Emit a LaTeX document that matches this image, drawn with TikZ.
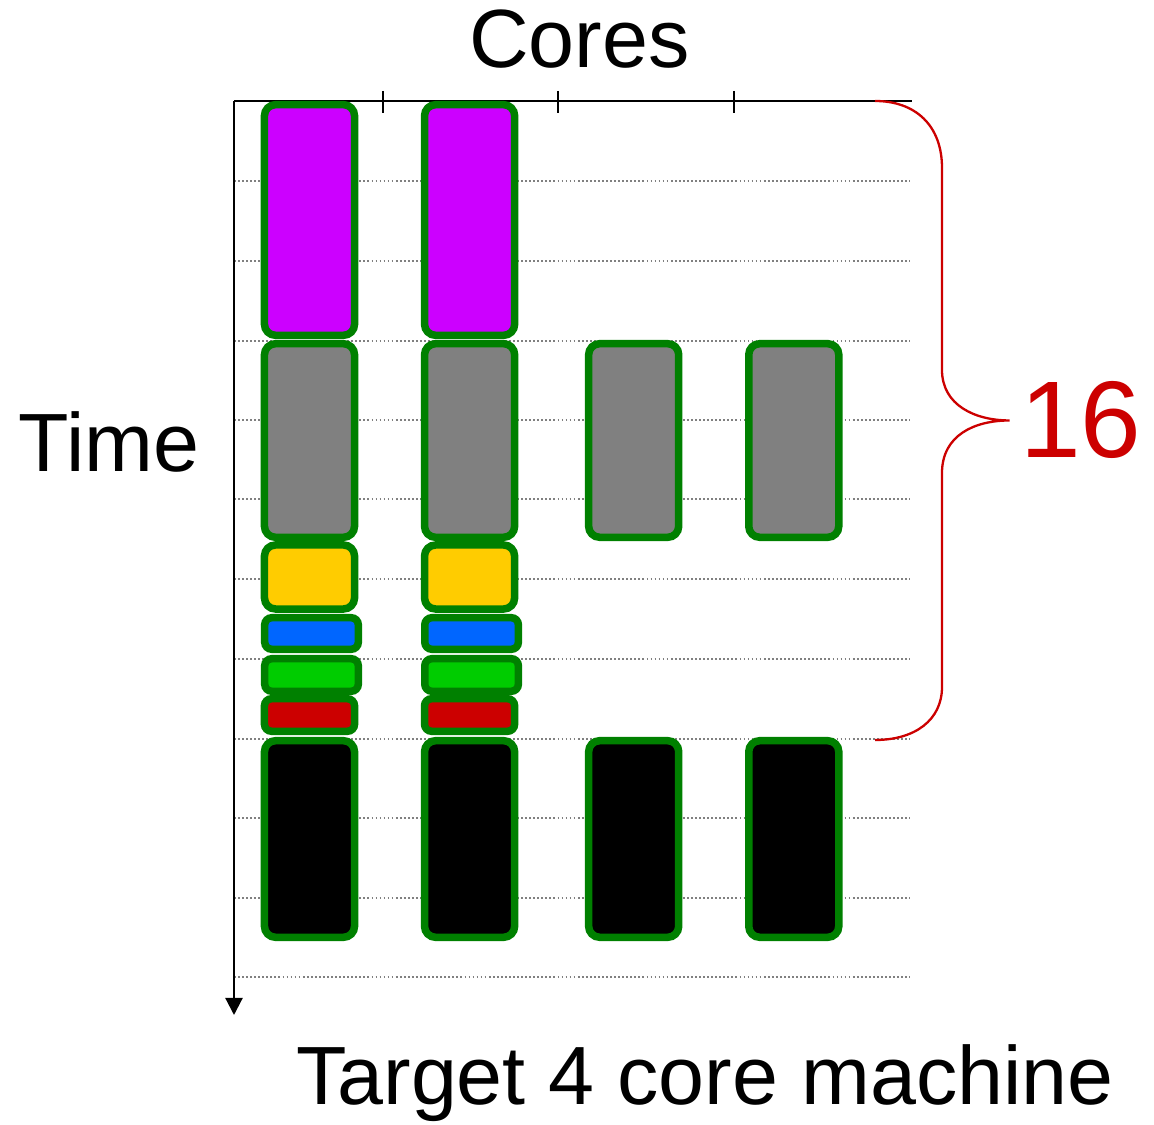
\documentclass[tikz,border=0pt]{standalone}
\usepackage{fontspec}
\setmainfont{Liberation Sans}
\usetikzlibrary{positioning,arrows.meta}

\definecolor{taskborder}{HTML}{008000}
\definecolor{taskpurple}{HTML}{CC00FF}
\definecolor{taskgray}{HTML}{808080}
\definecolor{taskyellow}{HTML}{FFCC00}
\definecolor{taskblue}{HTML}{0066FF}
\definecolor{taskgreen}{HTML}{00CC00}
\definecolor{taskred}{HTML}{CC0000}
\definecolor{bracered}{HTML}{CC0000}

\begin{document}
\begin{tikzpicture}[x=0.01cm,y=-0.01cm,on grid,
    task/.style={draw=taskborder,line width=0.075cm,rounded corners=0.11cm,
                 minimum width=0.9cm,inner sep=0pt},
    slim/.style={task,rounded corners=0.07cm},
    gridline/.style={gray,line width=0.4pt,dash pattern=on 0.5pt off 0.65pt},
    axis/.style={black,line width=0.022cm},
    bigtext/.style={inner sep=0pt,font=\fontsize{23.5pt}{28pt}\selectfont},
    numtext/.style={inner sep=0pt,text=bracered,font=\fontsize{31pt}{36pt}\selectfont},
    brace/.style={bracered,line width=0.023cm}]
    \useasboundingbox (0,0) rectangle (1154,1125);

    % time slots
    \foreach \y in {181,261,341,420,499,579,659,739,818,898,977}
        \draw[gridline] (234,\y) -- (910,\y);

    % axes
    \coordinate (origin) at (234,101);
    \coordinate (timeend) at (234,1015);
    \coordinate (coreend) at (912,101);
    \draw[axis,-{Triangle[length=0.17cm,width=0.17cm]}] (origin) -- (timeend);
    \draw[axis] (origin) -- (coreend);
    \foreach \x in {383,558,734}
        \draw[axis] (\x,91) -- (\x,113);

    % core 1
    \node[task,fill=taskpurple,minimum height=2.305cm] (pur1) at (309.5,220) {};
    \node[task,fill=taskgray,minimum height=1.935cm] (gry1) at (309.5,440.5) {};
    \node[task,fill=taskyellow,minimum height=0.64cm] (yel1) at (309.5,577) {};
    \node[slim,fill=taskblue,minimum width=0.935cm,minimum height=0.315cm] (blu1) at (311.5,633.5) {};
    \node[slim,fill=taskgreen,minimum width=0.935cm,minimum height=0.325cm] (grn1) at (311.5,675) {};
    \node[slim,fill=taskred,minimum height=0.325cm] (red1) at (309.5,715) {};
    \node[task,fill=black,minimum height=1.965cm] (blk1) at (309.5,839) {};

    % core 2
    \node[task,fill=taskpurple,minimum height=2.305cm] (pur2) [right=1.6cm of pur1] {};
    \node[task,fill=taskgray,minimum height=1.935cm] (gry2) [right=1.6cm of gry1] {};
    \node[task,fill=taskyellow,minimum height=0.64cm] (yel2) [right=1.6cm of yel1] {};
    \node[slim,fill=taskblue,minimum width=0.935cm,minimum height=0.315cm] (blu2) [right=1.6cm of blu1] {};
    \node[slim,fill=taskgreen,minimum width=0.935cm,minimum height=0.325cm] (grn2) [right=1.6cm of grn1] {};
    \node[slim,fill=taskred,minimum height=0.325cm] (red2) [right=1.6cm of red1] {};
    \node[task,fill=black,minimum height=1.965cm] (blk2) [right=1.6cm of blk1] {};

    % cores 3 and 4
    \node[task,fill=taskgray,minimum height=1.935cm] (gry3) [right=1.64cm of gry2] {};
    \node[task,fill=taskgray,minimum height=1.935cm] (gry4) [right=1.6cm of gry3] {};
    \node[task,fill=black,minimum height=1.965cm] (blk3) [right=1.64cm of blk2] {};
    \node[task,fill=black,minimum height=1.965cm] (blk4) [right=1.6cm of blk3] {};

    % labels
    \node[bigtext,anchor=base] (cores) at (579.5,68) {Cores};
    \node[bigtext,anchor=base west] (time) at (18,472) {Time};
    \node[bigtext,anchor=base] (target) at (705,1105) {Target 4 core machine};
    \node[numtext,anchor=base] (num) at (1081,458) {16};

    % brace
    \coordinate (bracetop) at (875,101);
    \coordinate (bracebot) at (875,740);
    \coordinate (bracetip) at ([xshift=-0.1cm]num.west);
    \draw[brace] (bracetop) .. controls +(40,0) and +(0,-43) .. (942,168)
        -- (942,370) .. controls +(0,35) and +(-35,0) .. (bracetip)
        .. controls +(-35,0) and +(0,-38) .. (942,473)
        -- (942,687) .. controls +(0,33) and +(40,0) .. (bracebot);
\end{tikzpicture}
\end{document}
